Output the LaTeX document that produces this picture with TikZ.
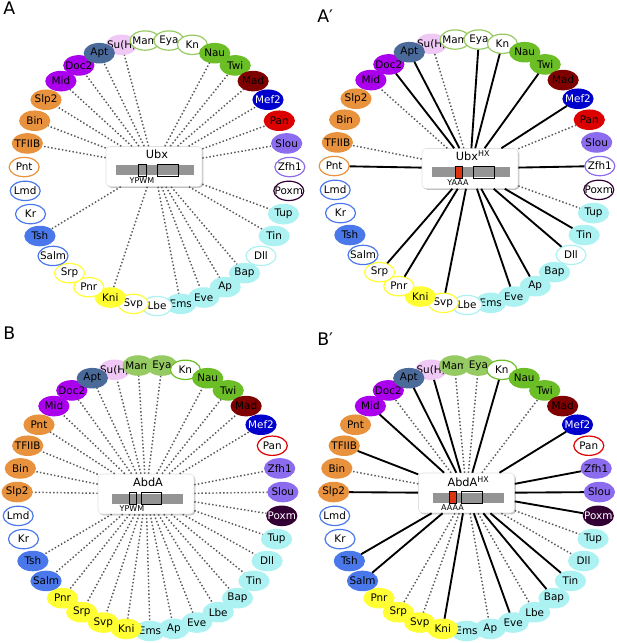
\documentclass[tikz,border=0pt]{standalone}
\usepackage{fontspec}
\setmainfont{DejaVu Sans}
\usetikzlibrary{shapes.geometric, shadows}

\definecolor{suhc}{HTML}{F0C8F5}
\definecolor{mamc}{HTML}{96CA62}
\definecolor{grnc}{HTML}{6CBE26}
\definecolor{madc}{HTML}{7F0000}
\definecolor{mefc}{HTML}{0000CC}
\definecolor{panc}{HTML}{DD0000}
\definecolor{slouc}{HTML}{8C6CEE}
\definecolor{poxmc}{HTML}{330033}
\definecolor{cyac}{HTML}{ADF2F2}
\definecolor{yelc}{HTML}{FFFF33}
\definecolor{bluc}{HTML}{4A78EA}
\definecolor{orgc}{HTML}{E8923E}
\definecolor{vioc}{HTML}{AA00EE}
\definecolor{aptc}{HTML}{4A6A9A}
\definecolor{hxred}{HTML}{DD3311}

% ring order, starting one step left of the top
\def\ubxring{suh/Su(H)/full/suhc, mam/Mam/hollow/mamc, eya/Eya/hollow/mamc, kn/Kn/hollow/mamc,
  nau/Nau/full/grnc, twi/Twi/full/grnc, mad/Mad/full/madc, mef/Mef2/fulldk/mefc, pan/Pan/full/panc,
  slou/Slou/full/slouc, zfh/Zfh1/hollow/slouc, poxm/Poxm/hollow/poxmc, tup/Tup/full/cyac,
  tin/Tin/full/cyac, dll/Dll/hollow/cyac, bap/Bap/full/cyac, ap/Ap/full/cyac, eve/Eve/full/cyac,
  ems/Ems/full/cyac, lbe/Lbe/hollow/cyac, svp/Svp/hollow/yelc, kni/Kni/full/yelc, pnr/Pnr/hollow/yelc,
  srp/Srp/hollow/yelc, salm/Salm/hollow/bluc, tsh/Tsh/full/bluc, kr/Kr/hollow/bluc, lmd/Lmd/hollow/bluc,
  pnt/Pnt/hollow/orgc, tf/TFIIB/full/orgc, bin/Bin/full/orgc, slp/Slp2/full/orgc, mid/Mid/full/vioc,
  doc/Doc2/full/vioc, apt/Apt/full/aptc}
\def\abdring{suh/Su(H)/full/suhc, mam/Mam/full/mamc, eya/Eya/full/mamc, kn/Kn/hollow/grnc,
  nau/Nau/full/grnc, twi/Twi/full/grnc, mad/Mad/full/madc, mef/Mef2/fulldk/mefc, pan/Pan/hollow/panc,
  zfh/Zfh1/full/slouc, slou/Slou/full/slouc, poxm/Poxm/fulldk/poxmc, tup/Tup/full/cyac,
  dll/Dll/full/cyac, tin/Tin/full/cyac, bap/Bap/full/cyac, lbe/Lbe/full/cyac, eve/Eve/full/cyac,
  ap/Ap/full/cyac, ems/Ems/full/cyac, kni/Kni/full/yelc, svp/Svp/full/yelc, srp/Srp/full/yelc,
  pnr/Pnr/full/yelc, salm/Salm/full/bluc, tsh/Tsh/full/bluc, kr/Kr/hollow/bluc, lmd/Lmd/hollow/bluc,
  slp/Slp2/full/orgc, bin/Bin/full/orgc, tf/TFIIB/full/orgc, pnt/Pnt/full/orgc, mid/Mid/full/vioc,
  doc/Doc2/full/vioc, apt/Apt/full/aptc}

\begin{document}
\begin{tikzpicture}[x=0.75pt,y=0.75pt,yscale=-1,xscale=1,
  every node/.style={font=\fontsize{7.8}{9}\selectfont},
  gene/.style={ellipse, minimum width=22.5pt, minimum height=14.5pt, inner xsep=-7pt, inner ysep=0pt, line width=0.9pt},
  full/.style={fill=#1, draw=#1},
  fulldk/.style={fill=#1, draw=#1, text=white},
  hollow/.style={fill=white, draw=#1},
  hub/.style={rectangle, rounded corners=3pt, minimum width=72pt, minimum height=30pt, fill=white, draw=black!12,
    drop shadow={shadow xshift=1pt, shadow yshift=-1pt, fill=black!40, opacity=.6}},
  dotlink/.style={draw=black!65, line width=1.1pt, dash pattern=on 1.1pt off 1.6pt},
  hxlink/.style={draw=black, line width=1.4pt},
  bar/.style={fill=black!42},
  dom/.style={draw=black, line width=0.5pt},
  tag/.style={font=\fontsize{6}{7}\selectfont, inner sep=0pt},
  ttl/.style={font=\fontsize{8.5}{10}\selectfont, inner sep=0pt},
  panel/.style={font=\fontsize{13}{15}\selectfont, anchor=north west, inner sep=0pt}]
\useasboundingbox (0,0) rectangle (617,643);

\node[panel] (labA) at (3,2) {A};
\node[panel] (labAp) at (317,10) {A′};
\node[panel] (labB) at (3,327) {B};
\node[panel] (labBp) at (317,333) {B′};

%% A : Ubx
\begin{scope}[shift={(157,173)}]
\node[hub] (ubx) at (-3,-6.5) {};
\foreach \nm/\lbl/\fl/\col [count=\k from -1] in \ubxring
  \node[gene,\fl=\col] (A-\nm) at ({133*sin(10.2857*\k-5.1429)},{-133*cos(10.2857*\k-5.1429)}) {\lbl};
\foreach \nm in {suh,apt,doc,mid,slp,bin,tf,nau,twi,mad,mef,pan,slou,tup,tin,bap,ap,eve,ems,kni,tsh}
  \draw[dotlink] (ubx) -- (A-\nm);
\begin{scope}[shift={(-3,-6.5)}]
\node[ttl] (ubxname) at (3,-12.5) {Ubx};
\fill[bar] (-38,-1.5) rectangle (40,8.5);
\draw[dom] (-16,-2.5) rectangle (-8,9.5);
\draw[dom] (3,-2.5) rectangle (24,9.5);
\node[tag] (ubxmotif) at (-12,14) {YPWM};
\end{scope}
\end{scope}

%% A' : Ubx HX
\begin{scope}[shift={(467,172)}]
\node[hub] (ubxhx) at (3,-3.5) {};
\foreach \nm/\lbl/\fl/\col [count=\k from -1] in \ubxring
  \node[gene,\fl=\col] (Ap-\nm) at ({133*sin(10.2857*\k-5.1429)},{-133*cos(10.2857*\k-5.1429)}) {\lbl};
\foreach \nm in {suh,mid,pan,tf,tup}
  \draw[dotlink] (ubxhx) -- (Ap-\nm);
\foreach \nm in {eya,kn,apt,doc,twi,mef,pnt,zfh,srp,pnr,svp,eve,ap,dll,tin}
  \draw[hxlink] (ubxhx) -- (Ap-\nm);
\begin{scope}[shift={(3,-3.5)}]
\node[ttl] (ubxhxname) at (3,-12.5) {Ubx\textsuperscript{HX}};
\fill[bar] (-38,-1.5) rectangle (40,8.5);
\draw[dom, fill=hxred] (-15,-2.5) rectangle (-8,9.5);
\draw[dom] (3,-2.5) rectangle (24,9.5);
\node[tag] (ubxhxmotif) at (-12,14) {YAAA};
\end{scope}
\end{scope}

%% B : AbdA
\begin{scope}[shift={(150,498)}]
\node[hub] (abda) at (-4,-4) {};
\foreach \nm/\lbl/\fl/\col [count=\k from -1] in \abdring
  \node[gene,\fl=\col] (B-\nm) at ({133*sin(10.2857*\k-5.1429)},{-133*cos(10.2857*\k-5.1429)}) {\lbl};
\foreach \nm in {suh,mam,eya,nau,twi,mad,mef,zfh,slou,poxm,tup,dll,tin,bap,lbe,eve,ap,ems,kni,svp,srp,pnr,salm,tsh,slp,bin,tf,pnt,mid,doc,apt}
  \draw[dotlink] (abda) -- (B-\nm);
\begin{scope}[shift={(-4,-4)}]
\node[ttl] (abdaname) at (2,-11.5) {AbdA};
\fill[bar] (-34,-0.5) rectangle (37,9.5);
\draw[dom] (-17,-1.5) rectangle (-10,10.5);
\draw[dom] (-5,-1.5) rectangle (15.5,10.5);
\node[tag] (abdamotif) at (-14,15) {YPWM};
\end{scope}
\end{scope}

%% B' : AbdA HX
\begin{scope}[shift={(466.5,498)}]
\node[hub] (abdahx) at (0,-5) {};
\foreach \nm/\lbl/\fl/\col [count=\k from -1] in \abdring
  \node[gene,\fl=\col] (Bp-\nm) at ({133*sin(10.2857*\k-5.1429)},{-133*cos(10.2857*\k-5.1429)}) {\lbl};
\foreach \nm in {doc,mam,eya,twi,tup,dll,lbe,ap,svp,srp,bin}
  \draw[dotlink] (abdahx) -- (Bp-\nm);
\foreach \nm in {mid,apt,suh,kn,mef,zfh,slou,poxm,tin,bap,eve,kni,salm,tsh,slp,tf}
  \draw[hxlink] (abdahx) -- (Bp-\nm);
\begin{scope}[shift={(0,-5)}]
\node[ttl] (abdahxname) at (2,-11.5) {AbdA\textsuperscript{HX}};
\fill[bar] (-34,-0.5) rectangle (37,9.5);
\draw[dom, fill=hxred] (-17,-1.5) rectangle (-10,10.5);
\draw[dom] (-5,-1.5) rectangle (15.5,10.5);
\node[tag] (abdahxmotif) at (-14,15) {AAAA};
\end{scope}
\end{scope}

\end{tikzpicture}
\end{document}
